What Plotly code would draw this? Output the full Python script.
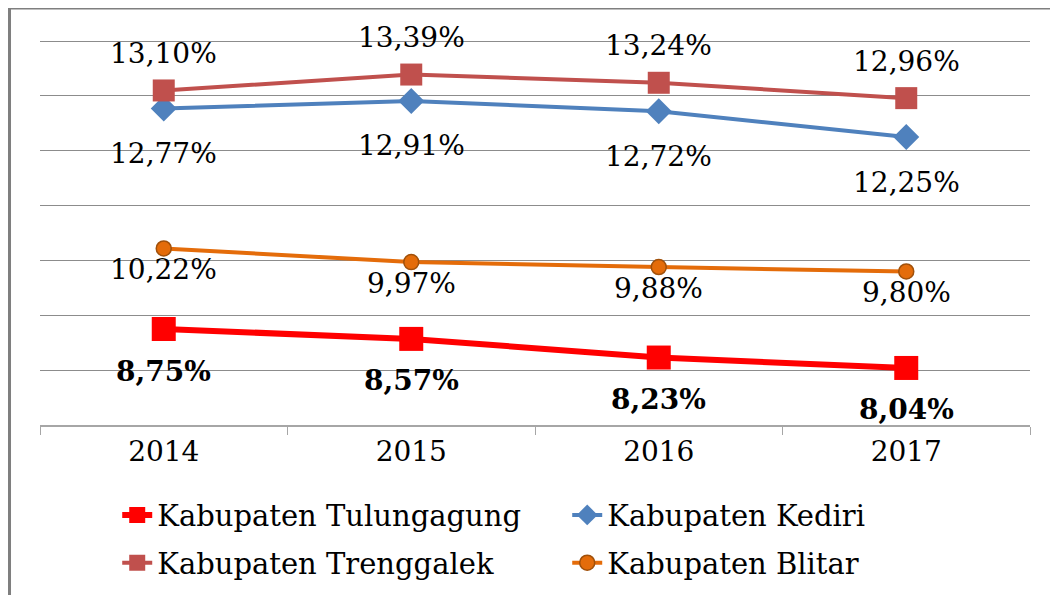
import plotly.graph_objects as go

years = ["2014", "2015", "2016", "2017"]
tulungagung = [8.75, 8.57, 8.23, 8.04]
kediri = [12.77, 12.91, 12.72, 12.25]
trenggalek = [13.10, 13.39, 13.24, 12.96]
blitar = [10.22, 9.97, 9.88, 9.80]

FONT = "DejaVu Serif"

def fmt(v):
    return f"{v:.2f}".replace(".", ",") + "%"

fig = go.Figure()

fig.add_trace(go.Scatter(
    x=years, y=tulungagung, name="Kabupaten Tulungagung", mode="lines+markers",
    line=dict(color="#FF0000", width=6),
    marker=dict(symbol="square", size=24, color="#FF0000"),
    legend="legend"))
fig.add_trace(go.Scatter(
    x=years, y=kediri, name="Kabupaten Kediri", mode="lines+markers",
    line=dict(color="#4F81BD", width=4),
    marker=dict(symbol="diamond", size=20, color="#4F81BD"),
    legend="legend"))
fig.add_trace(go.Scatter(
    x=years, y=trenggalek, name="Kabupaten Trenggalek", mode="lines+markers",
    line=dict(color="#C0504D", width=4),
    marker=dict(symbol="square", size=22, color="#C0504D"),
    legend="legend2"))
fig.add_trace(go.Scatter(
    x=years, y=blitar, name="Kabupaten Blitar", mode="lines+markers",
    line=dict(color="#E46C0A", width=4),
    marker=dict(symbol="circle", size=15, color="#E46C0A",
                line=dict(color="#A0500A", width=1.5)),
    legend="legend2"))

for series, shift, bold in [(trenggalek, 37, False), (kediri, -45, False),
                            (blitar, -21, False), (tulungagung, -42, True)]:
    for i, v in enumerate(series):
        txt = f"<b>{fmt(v)}</b>" if bold else fmt(v)
        fig.add_annotation(x=i, y=v, xref="x", yref="y", text=txt,
                           showarrow=False, yshift=shift,
                           font=dict(family=FONT, size=28, color="#000000"))

fig.add_shape(type="rect", xref="paper", yref="paper",
              x0=-0.0308, x1=1.2, y0=-0.6, y1=1.083,
              line=dict(color="#7F7F7F", width=3), layer="below")

fig.update_layout(
    width=1058, height=595,
    margin=dict(l=32, r=36, t=32, b=178, autoexpand=False),
    paper_bgcolor="white", plot_bgcolor="white",
    font=dict(family=FONT, size=28, color="#000000"),
    showlegend=True,
    legend=dict(orientation="h", x=0.078, y=-0.234, xanchor="left", yanchor="middle",
                entrywidth=405, entrywidthmode="pixels",
                font=dict(family=FONT, size=29), bgcolor="rgba(0,0,0,0)"),
    legend2=dict(orientation="h", x=0.078, y=-0.358, xanchor="left", yanchor="middle",
                 entrywidth=405, entrywidthmode="pixels",
                 font=dict(family=FONT, size=29), bgcolor="rgba(0,0,0,0)"),
)

fig.update_xaxes(type="category", range=[-0.5, 3.5],
                 showline=True, linecolor="#A6A6A6", linewidth=2,
                 ticks="outside", tickson="boundaries", ticklen=8, tickcolor="#A6A6A6",
                 showgrid=False, tickfont=dict(family=FONT, size=28))
fig.update_yaxes(range=[7, 14.02], tickvals=[8, 9, 10, 11, 12, 13, 14],
                 showgrid=True, gridcolor="#8C8C8C", gridwidth=1,
                 showticklabels=False, zeroline=False, showline=False)

fig.write_html("out.html")
